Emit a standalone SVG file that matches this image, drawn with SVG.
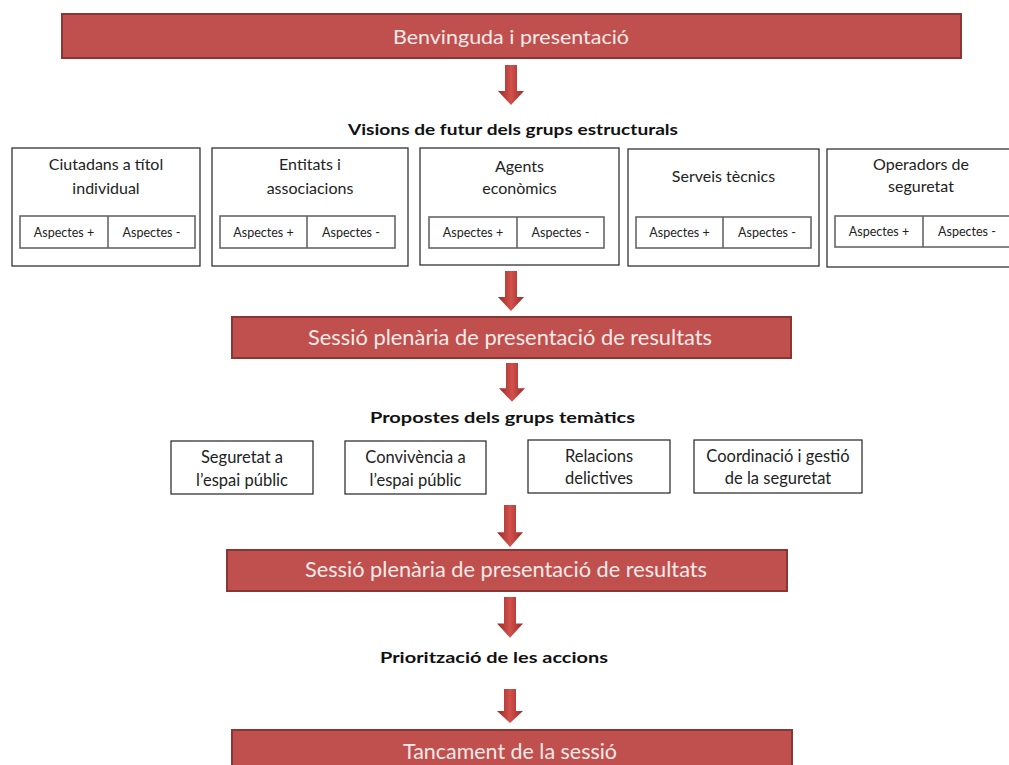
<svg xmlns="http://www.w3.org/2000/svg" xmlns:xlink="http://www.w3.org/1999/xlink" width="1009" height="765" viewBox="0 0 1009 765">
  <defs>
    <linearGradient id="arrGrad" x1="0" y1="0" x2="1" y2="0">
      <stop offset="0" stop-color="#9A2926"/>
      <stop offset="0.5" stop-color="#D2514C"/>
      <stop offset="1" stop-color="#9A2926"/>
    </linearGradient>
    <path id="arr" d="M-6,0 H6 V26 H13 L0,40 L-13,26 H-6 Z"/>
    <style>
      .bar { fill: #C0504D; stroke: #8A3634; stroke-width: 2; }
      .bartext { font-family: Lato, "Liberation Sans", sans-serif; fill: #FAEAE9; text-anchor: middle; }
      .label { font-family: Lato, "Liberation Sans", sans-serif; font-weight: bold; fill: #111; font-size: 16px; }
      .box { fill: #fff; stroke: #222; stroke-width: 1.2; }
      .tbl { fill: #fff; stroke: #666; stroke-width: 1.6; }
      .title { font-family: Lato, "Liberation Sans", sans-serif; font-size: 16px; fill: #222; text-anchor: middle; }
      .tem { font-family: Lato, "Liberation Sans", sans-serif; font-size: 16.5px; fill: #222; text-anchor: middle; }
      .asp { font-family: Lato, "Liberation Sans", sans-serif; font-size: 12.5px; fill: #222; text-anchor: middle; }
      .arrow { fill: url(#arrGrad); }
    </style>
  </defs>
  <rect width="1009" height="765" fill="#fff"/>

  <g id="bar-benvinguda">
    <rect class="bar" x="62" y="14" width="899" height="44"/>
    <text class="bartext" x="511" y="44" font-size="20" textLength="236" lengthAdjust="spacingAndGlyphs">Benvinguda i presentació</text>
  </g>

  <g id="label-visions">
    <text class="label" x="348" y="135" textLength="330" lengthAdjust="spacingAndGlyphs">Visions de futur dels grups estructurals</text>
  </g>

  <g id="grp-ciutadans">
    <rect class="box" x="12" y="148" width="188" height="118"/>
    <text class="title" x="106" y="170">Ciutadans a títol</text>
    <text class="title" x="106" y="194">individual</text>
    <rect class="tbl" x="20" y="216" width="175" height="32"/>
    <line x1="108" y1="216" x2="108" y2="248" stroke="#666" stroke-width="1.6"/>
    <text class="asp" x="64" y="236.5">Aspectes +</text>
    <text class="asp" x="151.5" y="236.5">Aspectes -</text>
  </g>

  <g id="grp-entitats">
    <rect class="box" x="212" y="148" width="196" height="118"/>
    <text class="title" x="310" y="170">Entitats i</text>
    <text class="title" x="310" y="194">associacions</text>
    <rect class="tbl" x="220" y="216" width="175" height="32"/>
    <line x1="307" y1="216" x2="307" y2="248" stroke="#666" stroke-width="1.6"/>
    <text class="asp" x="263.5" y="236.5">Aspectes +</text>
    <text class="asp" x="351" y="236.5">Aspectes -</text>
  </g>

  <g id="grp-agents">
    <rect class="box" x="420" y="148" width="199" height="117"/>
    <text class="title" x="519.5" y="172">Agents</text>
    <text class="title" x="519.5" y="194">econòmics</text>
    <rect class="tbl" x="429" y="217" width="175" height="31"/>
    <line x1="517" y1="217" x2="517" y2="248" stroke="#666" stroke-width="1.6"/>
    <text class="asp" x="473" y="236.5">Aspectes +</text>
    <text class="asp" x="560.5" y="236.5">Aspectes -</text>
  </g>

  <g id="grp-serveis">
    <rect class="box" x="628" y="149" width="191" height="117"/>
    <text class="title" x="723.5" y="182">Serveis tècnics</text>
    <rect class="tbl" x="636" y="217" width="175" height="31"/>
    <line x1="723" y1="217" x2="723" y2="248" stroke="#666" stroke-width="1.6"/>
    <text class="asp" x="679.5" y="236.5">Aspectes +</text>
    <text class="asp" x="767" y="236.5">Aspectes -</text>
  </g>

  <g id="grp-operadors">
    <rect class="box" x="827" y="149" width="192" height="118"/>
    <text class="title" x="921" y="170">Operadors de</text>
    <text class="title" x="921" y="192">seguretat</text>
    <rect class="tbl" x="835" y="216" width="176" height="31"/>
    <line x1="923" y1="216" x2="923" y2="247" stroke="#666" stroke-width="1.6"/>
    <text class="asp" x="879" y="235.5">Aspectes +</text>
    <text class="asp" x="967" y="235.5">Aspectes -</text>
  </g>

  <g id="bar-sessio-1">
    <rect class="bar" x="232" y="317" width="559" height="41"/>
    <text class="bartext" x="510" y="345" font-size="21" textLength="404" lengthAdjust="spacingAndGlyphs">Sessió plenària de presentació de resultats</text>
  </g>

  <g id="label-propostes">
    <text class="label" x="370" y="423" textLength="265" lengthAdjust="spacingAndGlyphs">Propostes dels grups temàtics</text>
  </g>

  <g id="tem-seguretat">
    <rect class="box" x="171" y="441" width="142" height="53"/>
    <text class="tem" x="242" y="463">Seguretat a</text>
    <text class="tem" x="242" y="486">l’espai públic</text>
  </g>
  <g id="tem-convivencia">
    <rect class="box" x="345" y="441" width="141" height="53"/>
    <text class="tem" x="415.5" y="463">Convivència a</text>
    <text class="tem" x="415.5" y="486">l’espai públic</text>
  </g>
  <g id="tem-relacions">
    <rect class="box" x="528" y="440" width="142" height="53"/>
    <text class="tem" x="599" y="462">Relacions</text>
    <text class="tem" x="599" y="484">delictives</text>
  </g>
  <g id="tem-coordinacio">
    <rect class="box" x="694" y="440" width="168" height="53"/>
    <text class="tem" x="778" y="462">Coordinació i gestió</text>
    <text class="tem" x="778" y="484">de la seguretat</text>
  </g>

  <g id="bar-sessio-2">
    <rect class="bar" x="227" y="550" width="560" height="41"/>
    <text class="bartext" x="506" y="577" font-size="21" textLength="402" lengthAdjust="spacingAndGlyphs">Sessió plenària de presentació de resultats</text>
  </g>

  <g id="label-prioritzacio">
    <text class="label" x="380" y="663" textLength="228" lengthAdjust="spacingAndGlyphs">Priorització de les accions</text>
  </g>

  <g id="bar-tancament">
    <rect class="bar" x="232" y="730" width="560" height="44"/>
    <text class="bartext" x="510" y="759" font-size="21" textLength="214" lengthAdjust="spacingAndGlyphs">Tancament de la sessió</text>
  </g>

  <g id="connectors">
    <use class="arrow" xlink:href="#arr" transform="translate(511,65)"/>
    <use class="arrow" xlink:href="#arr" transform="translate(511,271)"/>
    <use class="arrow" xlink:href="#arr" transform="translate(512,363) scale(1,0.97)"/>
    <use class="arrow" xlink:href="#arr" transform="translate(510,505) scale(1,1.05)"/>
    <use class="arrow" xlink:href="#arr" transform="translate(510,597) scale(1,1.02)"/>
    <use class="arrow" xlink:href="#arr" transform="translate(510,689) scale(1,0.85)"/>
  </g>
</svg>
